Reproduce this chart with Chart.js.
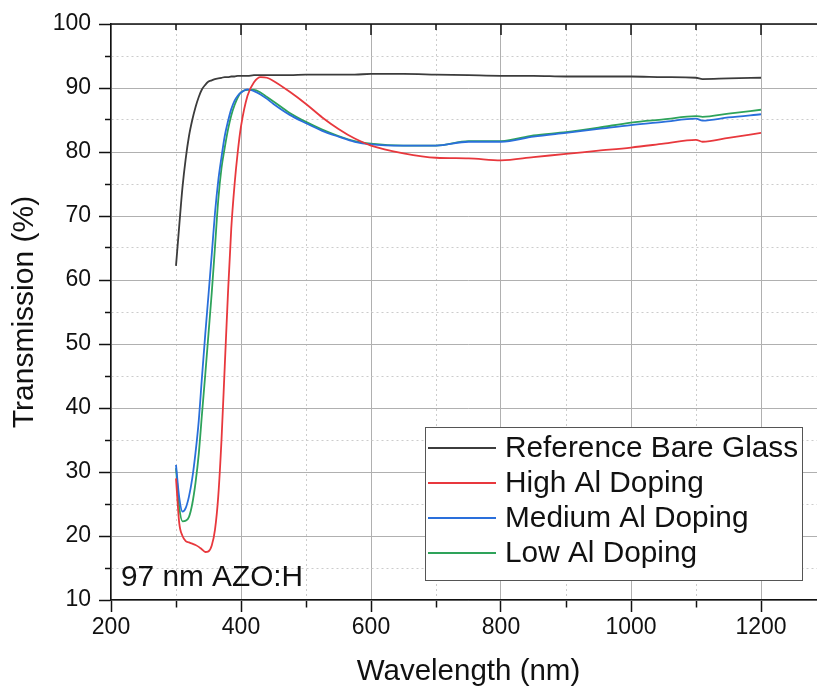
<!DOCTYPE html>
<html>
<head>
<meta charset="utf-8">
<script src="https://cdn.jsdelivr.net/npm/chart.js@4.4.0/dist/chart.umd.min.js"></script>
<style>
  body { margin: 0; background: #fff; overflow: hidden; }
  #wrap { width: 830px; height: 690px; }
</style>
</head>
<body>
<div id="wrap"><canvas id="chart" width="830" height="690"></canvas></div>
<script>
// transmission spectra, wavelength in nm, values in %
const wavelengths = [300, 305, 310, 315, 320, 325, 330, 335, 340, 345, 350, 355, 360, 365, 370, 375, 380, 385, 390, 395,
  400, 410, 420, 430, 440, 450, 475, 500, 525, 550, 575, 600, 650, 700, 750, 800, 850, 900, 950, 1000,
  1050, 1100, 1110, 1150, 1200];

const bareGlass = [62.2, 68.5, 74.5, 79, 82.5, 85, 87, 88.6, 89.8, 90.5, 91, 91.2, 91.4, 91.5, 91.6, 91.7, 91.7, 91.8, 91.8, 91.9,
  91.9, 91.9, 92, 92, 92, 92, 92, 92.1, 92.1, 92.1, 92.1, 92.2, 92.2, 92.1, 92, 91.9, 91.9, 91.8, 91.8, 91.8,
  91.7, 91.6, 91.4, 91.5, 91.6];

const highAl = [29, 22, 20, 19.2, 19, 18.8, 18.6, 18.3, 17.9, 17.5, 17.6, 18.5, 21, 26.2, 35, 46.5, 58, 68, 74.8, 80,
  84, 88.8, 90.9, 91.7, 91.6, 91.1, 89.4, 87.5, 85.4, 83.6, 82.1, 81, 79.8, 79.1, 79, 78.7, 79.2, 79.7, 80.2, 80.7,
  81.3, 81.9, 81.6, 82.2, 83];

const mediumAl = [31.1, 26, 23.8, 24.4, 26.2, 29, 33, 38, 44.9, 51.5, 57.7, 64, 70.5, 75.5, 79.2, 82.5, 84.8, 86.7, 88, 88.8,
  89.3, 89.8, 89.5, 89, 88.3, 87.5, 85.8, 84.5, 83.3, 82.4, 81.6, 81.2, 81, 81, 81.6, 81.6, 82.4, 83, 83.6, 84.2,
  84.7, 85.2, 84.9, 85.4, 85.9];

const lowAl = [30.6, 24.5, 22.3, 22.4, 23, 25, 28.3, 32.8, 39.1, 45.2, 51.6, 58, 65.2, 72.5, 77.5, 80.7, 83.5, 85.7, 87.3, 88.5,
  89.3, 89.7, 89.7, 89.3, 88.6, 87.9, 86.1, 84.7, 83.5, 82.5, 81.7, 81.3, 81, 81, 81.7, 81.7, 82.6, 83.1, 83.8, 84.6,
  85.1, 85.6, 85.5, 86, 86.6];

const seriesNames = ["Reference Bare Glass", "High Al Doping", "Medium Al Doping", "Low Al Doping"];
const seriesValues = [bareGlass, highAl, mediumAl, lowAl];
const seriesColors = ["#3c3c3c", "#e8383d", "#2a6fdb", "#2ea35a"];

const xRange = [200, 1300];
const yRange = [10, 100];
const sampleLabel = "97 nm AZO:H";

const FONT = "'Liberation Sans', Arial, sans-serif";

function isMajor(v, step) {
  return Math.abs(v % step) < 1e-6;
}

// frame top line, inward top ticks, sample label and boxed legend
const frame = {
  id: "frame",
  afterDraw(chart) {
    const { ctx, chartArea, scales } = chart;
    const x = scales.x;
    ctx.save();
    ctx.strokeStyle = "#111";
    ctx.lineWidth = 1.5;
    ctx.beginPath();
    ctx.moveTo(chartArea.left, chartArea.top);
    ctx.lineTo(chartArea.right + 4, chartArea.top);
    x.ticks.forEach(t => {
      if (t.value <= xRange[0]) return;
      const px = x.getPixelForValue(t.value);
      ctx.moveTo(px, chartArea.top);
      ctx.lineTo(px, chartArea.top + (isMajor(t.value, 200) ? 11 : 6));
    });
    ctx.stroke();

    ctx.fillStyle = "#111";
    ctx.font = "29.8px " + FONT;
    ctx.textBaseline = "alphabetic";
    ctx.textAlign = "left";
    ctx.fillText(sampleLabel, chartArea.left + 10, 586);

    // legend
    const box = { left: 425, top: 427, right: 802, bottom: 580 };
    ctx.fillStyle = "#fff";
    ctx.fillRect(box.left, box.top, box.right - box.left, box.bottom - box.top);
    ctx.strokeStyle = "#555";
    ctx.lineWidth = 1;
    ctx.strokeRect(box.left + 0.5, box.top + 0.5, box.right - box.left, box.bottom - box.top);
    ctx.font = "29.8px " + FONT;
    ctx.textBaseline = "middle";
    chart.data.datasets.forEach((ds, i) => {
      const cy = 448 + i * 35;
      ctx.strokeStyle = ds.borderColor;
      ctx.lineWidth = 1.8;
      ctx.beginPath();
      ctx.moveTo(428, cy);
      ctx.lineTo(496, cy);
      ctx.stroke();
      ctx.fillStyle = "#111";
      ctx.fillText(ds.label, 505, cy + 1);
    });
    ctx.restore();
  }
};

const datasets = seriesNames.map((name, i) => ({
  label: name,
  data: wavelengths.map((w, j) => ({ x: w, y: seriesValues[i][j] })),
  borderColor: seriesColors[i],
  borderWidth: 1.8,
  pointRadius: 0,
  fill: false,
  cubicInterpolationMode: "monotone"
}));

new Chart(document.getElementById("chart"), {
  type: "line",
  data: { datasets },
  options: {
    responsive: false,
    animation: false,
    layout: { padding: { left: 0, top: 24, right: 4, bottom: 0 } },
    plugins: { legend: { display: false }, tooltip: { enabled: false } },
    scales: {
      x: {
        type: "linear",
        min: xRange[0],
        max: xRange[1],
        afterFit(s) { s.height = 90; },
        ticks: {
          stepSize: 100,
          autoSkip: false,
          maxRotation: 0,
          padding: 2,
          color: "#111",
          font: { family: FONT, size: 23 },
          callback: v => isMajor(v, 200) ? v : ""
        },
        grid: {
          color: c => isMajor(c.tick.value, 200) ? "#b0b0b0" : "#cccccc",
          lineWidth: 1,
          tickColor: "#111",
          tickLength: 12,
          tickWidth: 1.5,
          tickBorderDash: c => isMajor(c.tick.value, 200) ? [] : [7, 100]
        },
        border: {
          color: "#111",
          width: 1.5,
          dash: c => c.tick && !isMajor(c.tick.value, 200) ? [2, 3] : []
        },
        title: {
          display: true,
          text: "Wavelength (nm)",
          color: "#111",
          font: { family: FONT, size: 29.5 },
          padding: { top: 0, bottom: 0 }
        }
      },
      y: {
        min: yRange[0],
        max: yRange[1],
        afterFit(s) { s.width = 111; },
        ticks: {
          stepSize: 5,
          autoSkip: false,
          padding: 8,
          color: "#111",
          font: { family: FONT, size: 23 },
          callback: v => isMajor(v, 10) ? v : ""
        },
        grid: {
          color: c => isMajor(c.tick.value, 10) ? "#b0b0b0" : "#cccccc",
          lineWidth: 1,
          tickColor: "#111",
          tickLength: 12,
          tickWidth: 1.5,
          tickBorderDash: c => isMajor(c.tick.value, 10) ? [] : [0, 6, 6, 100]
        },
        border: {
          color: "#111",
          width: 1.5,
          dash: c => c.tick && !isMajor(c.tick.value, 10) ? [2, 3] : []
        },
        title: {
          display: true,
          text: "Transmission (%)",
          color: "#111",
          font: { family: FONT, size: 30 },
          padding: { top: 7, bottom: 0 }
        }
      }
    }
  },
  plugins: [frame]
});
</script>
</body>
</html>
